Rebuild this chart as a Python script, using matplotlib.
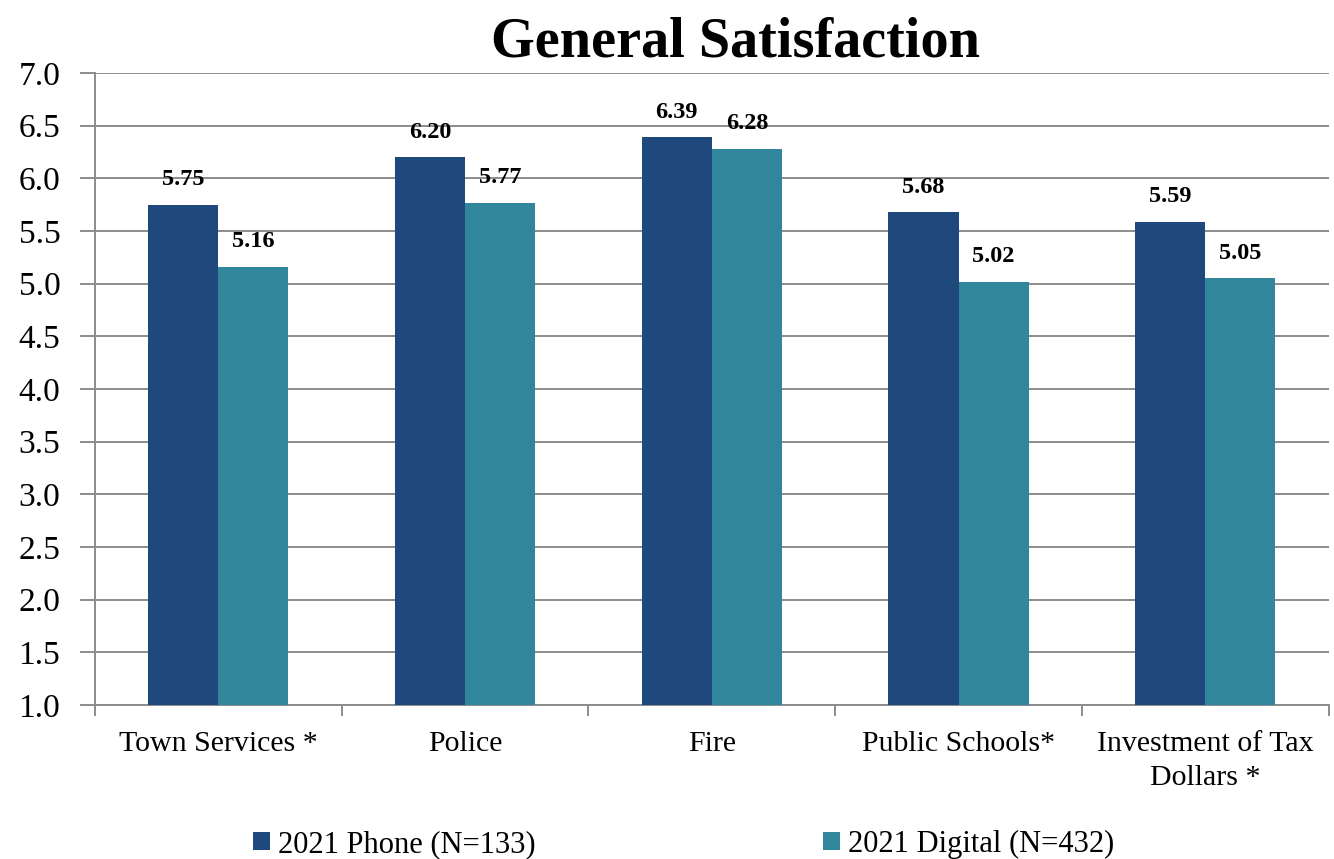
import numpy as np
import matplotlib.pyplot as plt

categories = ["Town Services *", "Police", "Fire", "Public Schools*", "Investment of Tax\nDollars *"]
phone = [5.75, 6.20, 6.39, 5.68, 5.59]
digital = [5.16, 5.77, 6.28, 5.02, 5.05]
series_names = ["2021 Phone (N=133)", "2021 Digital (N=432)"]
yticks = [1.0, 1.5, 2.0, 2.5, 3.0, 3.5, 4.0, 4.5, 5.0, 5.5, 6.0, 6.5, 7.0]

plt.rcParams['font.family'] = ['Liberation Serif', 'DejaVu Serif']

c_phone = "#1F497C"
c_digital = "#31869B"
grid_c = "#8C8C8C"

fig = plt.figure(figsize=(13.34, 8.59), dpi=100)
ax = fig.add_axes([0.0712, 0.1793, 0.9248, 0.7357])

x = np.arange(len(categories))
w = 0.284
b1 = ax.bar(x - w / 2, np.array(phone) - 1.0, w, bottom=1.0, color=c_phone, label=series_names[0], zorder=3)
b2 = ax.bar(x + w / 2, np.array(digital) - 1.0, w, bottom=1.0, color=c_digital, label=series_names[1], zorder=3)

# value labels above each bar
for xs, vals in [(x - w / 2, phone), (x + w / 2, digital)]:
    for xi, v in zip(xs, vals):
        ax.annotate(f"{v:.2f}", (xi, v), xytext=(0, 18), textcoords="offset points",
                    ha="center", va="center", fontsize=17.5, fontweight="bold")

ax.set_xlim(-0.5, len(categories) - 0.5)
ax.set_ylim(1.0, 7.0)
ax.set_yticks(yticks)
ax.set_yticklabels([f"{t:.1f}" for t in yticks], fontsize=24)
ax.yaxis.grid(True, color=grid_c, linewidth=1.4, zorder=0)
ax.set_axisbelow(True)

ax.set_xticks(x)
ax.set_xticklabels(categories, fontsize=21.5, linespacing=1.4)
ax.set_xticks(np.arange(len(categories) + 1) - 0.5, minor=True)
ax.tick_params(axis="x", which="major", length=0, pad=19)
ax.tick_params(axis="x", which="minor", length=8, width=1.4, color=grid_c)
ax.tick_params(axis="y", length=11, width=1.4, color=grid_c, pad=14)

for s in ["top", "right"]:
    ax.spines[s].set_visible(False)
for s in ["left", "bottom"]:
    ax.spines[s].set_color(grid_c)
    ax.spines[s].set_linewidth(1.4)

ax.set_title("General Satisfaction", fontsize=40.5, fontweight="bold", pad=12, x=0.519)

fig.legend(handles=[b1, b2], loc="center left", bbox_to_anchor=(0.1898, 0.017), ncol=2,
           frameon=False, fontsize=22, handlelength=0.56, handleheight=0.56,
           handletextpad=0.25, columnspacing=9.4, borderaxespad=0, borderpad=0)

fig.savefig("out.png", dpi=100)
